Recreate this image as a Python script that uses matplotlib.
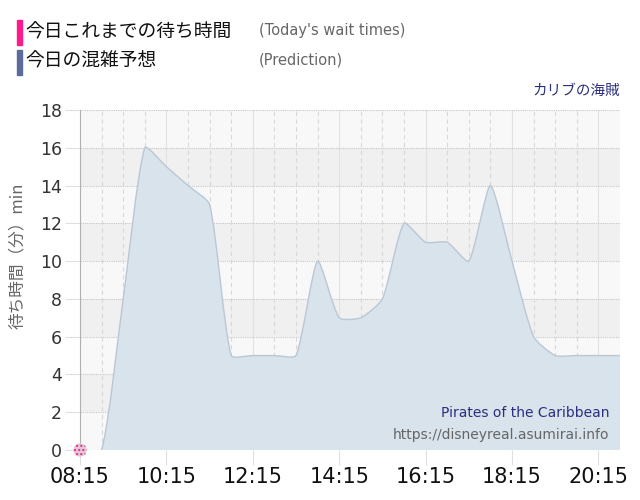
import numpy as np
import matplotlib.pyplot as plt
from matplotlib.path import Path
from matplotlib.patches import PathPatch

plt.rcParams['font.family'] = ['DejaVu Sans', 'Noto Sans CJK JP']

# 予測データ（30分ごと）
times = ['08:15', '08:45', '09:15', '09:45', '10:15', '10:45', '11:15', '11:45',
         '12:15', '12:45', '13:15', '13:45', '14:15', '14:45', '15:15', '15:45',
         '16:15', '16:45', '17:15', '17:45', '18:15', '18:45', '19:15', '19:45',
         '20:15', '20:45']
prediction = [0, 0, 8, 16, 15, 14, 13, 5, 5, 5, 5, 10, 7, 7, 8, 12, 11, 11, 10,
              14, 10, 6, 5, 5, 5, 5]
# 今日の実績（まだ1点だけ）
today_times = ['08:15']
today_waits = [0]
tick_labels = ['08:15', '10:15', '12:15', '14:15', '16:15', '18:15', '20:15']


def to_hours(t):
    h, m = t.split(':')
    return int(h) + int(m) / 60


fig = plt.figure(figsize=(6.4, 5), dpi=100)
ax = fig.add_axes([80 / 640, 50 / 500, 540 / 640, 340 / 500])
ax.set_xlim(to_hours('08:15'), to_hours('20:45'))
ax.set_ylim(0, 18)
ax.set_facecolor('#f8f8f8')

# 交互の帯
for lo in range(2, 18, 4):
    ax.axhspan(lo, lo + 2, color='#f0f0f0', zorder=0, lw=0)

xs = np.array([to_hours(t) for t in times])
ys = np.array(prediction, dtype=float)

# Chart.js風のスプライン（弱いtension）を表示座標で計算
pts = ax.transData.transform(np.column_stack([xs, ys]))
tension = 0.2
cps = []
for i in range(len(pts)):
    prev = pts[max(i - 1, 0)]
    cur = pts[i]
    nxt = pts[min(i + 1, len(pts) - 1)]
    d01 = np.hypot(*(cur - prev))
    d12 = np.hypot(*(nxt - cur))
    tot = d01 + d12 if d01 + d12 > 0 else 1
    fa = tension * d01 / tot
    fb = tension * d12 / tot
    cps.append((cur - fa * (nxt - prev), cur + fb * (nxt - prev)))

inv = ax.transData.inverted()
verts = [inv.transform(pts[0])]
codes = [Path.MOVETO]
for i in range(1, len(pts)):
    verts += [inv.transform(cps[i - 1][1]), inv.transform(cps[i][0]), inv.transform(pts[i])]
    codes += [Path.CURVE4] * 3
line_path = Path(verts, codes)
fill_path = Path(verts + [(xs[-1], 0), (xs[0], 0), verts[0]],
                 codes + [Path.LINETO, Path.LINETO, Path.CLOSEPOLY])
ax.add_patch(PathPatch(fill_path, facecolor='#d8e3eb', edgecolor='none', zorder=2))
ax.add_patch(PathPatch(line_path, facecolor='none', edgecolor='#b9c8d5', lw=1, zorder=3))

# 今日の実績点
ax.scatter([to_hours(t) for t in today_times], today_waits, s=90, facecolor='#d9cdd4',
           edgecolor='#ff1a9a', hatch='....', linewidth=0, zorder=5, clip_on=False)

# グリッド
for h in np.arange(8.75, 20.75, 0.5):
    if abs((h - 8.25) % 2) > 1e-6:
        ax.axvline(h, color='#d8d8d8', lw=0.8, ls=(0, (4, 3)), zorder=1)
ax.set_xticks([to_hours(t) for t in tick_labels])
ax.set_xticklabels(tick_labels, fontsize=15, color='#111111')
ax.set_yticks(range(0, 19, 2))
ax.set_yticklabels([str(v) for v in range(0, 19, 2)], fontsize=12.5, color='#333333')
ax.grid(axis='x', color='#e2e2e2', lw=0.8, zorder=1)
ax.grid(axis='y', color='#c8c8c8', lw=0.8, ls=(0, (1, 1)), zorder=1)
ax.set_axisbelow(True)
ax.tick_params(axis='x', length=11, color='#e0e0e0', pad=1)
ax.tick_params(axis='y', length=11, color='#e0e0e0', pad=2)
for s in ['top', 'right', 'bottom']:
    ax.spines[s].set_visible(False)
ax.spines['left'].set_color('#b0b0b0')

ax.set_ylabel('待ち時間（分）min', fontsize=12, color='#666666',
              family=['Noto Sans CJK JP', 'DejaVu Sans'])
ax.yaxis.set_label_coords(-0.10, 0.57)

# 凡例（ヘッダー）
fig.patches.append(plt.Rectangle((17 / 640, 1 - 45 / 500), 5 / 640, 25 / 500,
                                 transform=fig.transFigure, color='#ff1a8c'))
fig.patches.append(plt.Rectangle((17 / 640, 1 - 75 / 500), 5 / 640, 25 / 500,
                                 transform=fig.transFigure, color='#5b6b9b'))
fig.text(25 / 640, 1 - 32 / 500, '今日これまでの待ち時間', fontsize=13.5, va='center',
         family=['Noto Sans CJK JP', 'DejaVu Sans'], color='#111111')
fig.text(25 / 640, 1 - 61 / 500, '今日の混雑予想', fontsize=13.5, va='center',
         family=['Noto Sans CJK JP', 'DejaVu Sans'], color='#111111')
fig.text(259 / 640, 1 - 31 / 500, "(Today's wait times)", fontsize=10.5, va='center',
         color='#666666')
fig.text(259 / 640, 1 - 60 / 500, '(Prediction)', fontsize=10.5, va='center',
         color='#666666')
fig.text(620 / 640, 1 - 91 / 500, 'カリブの海賊', fontsize=10.5, va='center', ha='right',
         family=['Noto Sans CJK JP', 'DejaVu Sans'], color='#2b2f7f')

ax.text(0.98, 0.108, 'Pirates of the Caribbean', transform=ax.transAxes, ha='right',
        va='center', fontsize=10, color='#2b2f7f', zorder=6)
ax.text(0.98, 0.045, 'https://disneyreal.asumirai.info', transform=ax.transAxes,
        ha='right', va='center', fontsize=10, color='#666666', zorder=6)

fig.savefig('out.png', dpi=100)
